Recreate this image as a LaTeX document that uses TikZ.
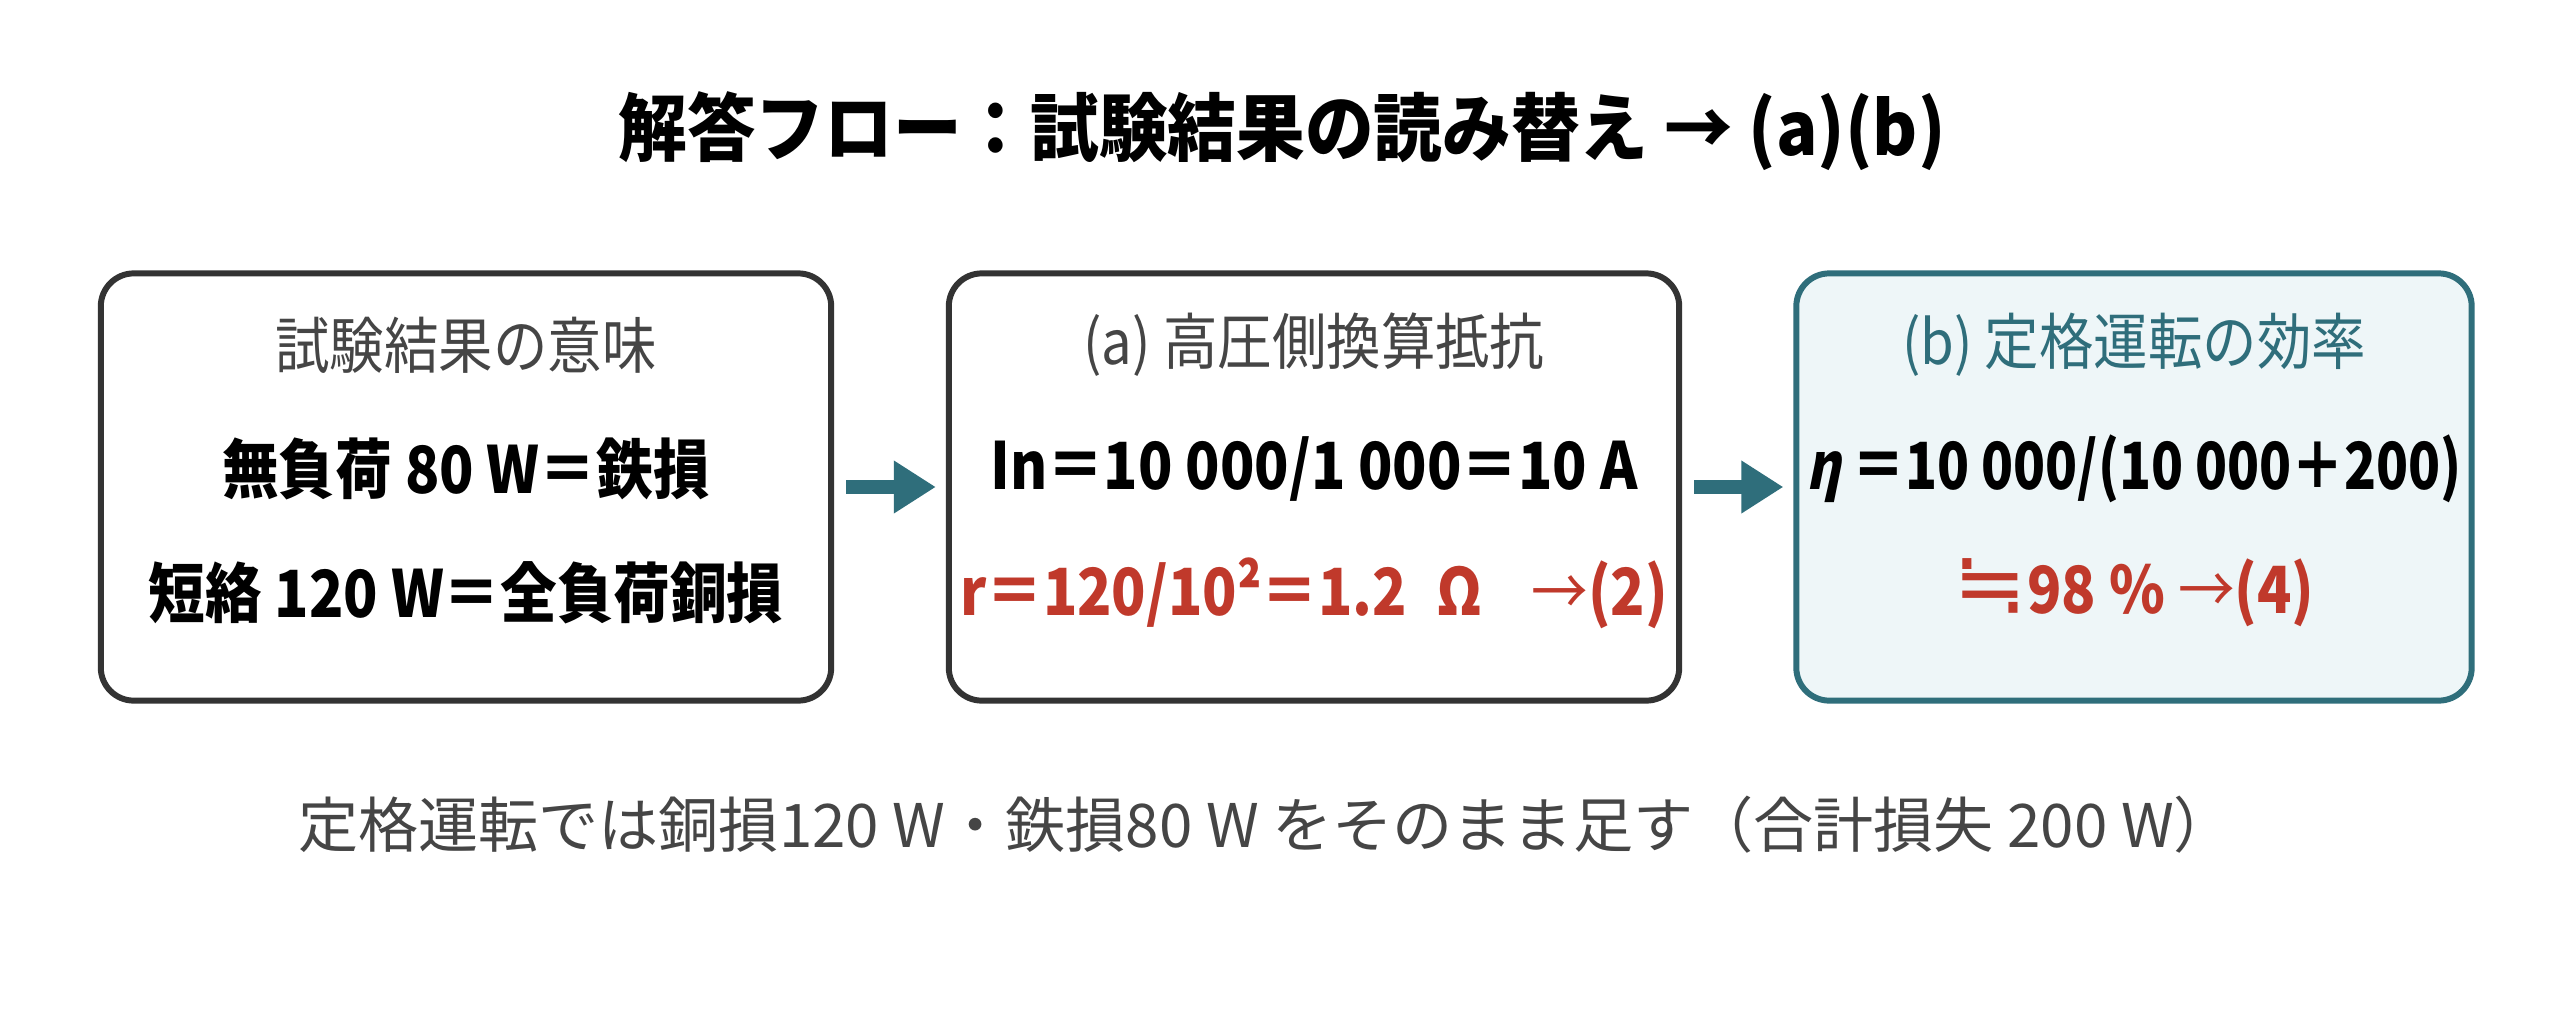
\documentclass[tikz,border=0pt]{standalone}
\usepackage{fontspec}
\setmainfont{Noto Sans CJK JP}
\newfontfamily\titlefont[FakeStretch=0.93]{Noto Sans CJK JP}
\newfontfamily\headfont[FakeStretch=0.89]{Noto Sans CJK JP}
\newfontfamily\calcfont[FakeStretch=0.87]{Noto Sans CJK JP}
\newfontfamily\tightfont[FakeStretch=0.81]{Noto Sans CJK JP}
\newfontfamily\etafont[FakeStretch=0.81, FakeSlant=0.2]{Noto Sans CJK JP}
\newfontfamily\symfont{DejaVu Sans}
\usetikzlibrary{arrows.meta}
\definecolor{cardline}{HTML}{333333}
\definecolor{headgray}{HTML}{454545}
\definecolor{flowteal}{HTML}{2F6E7B}
\definecolor{answerred}{HTML}{C0392B}
\definecolor{resultfill}{HTML}{EEF6F8}
\tikzset{
  card/.style = {draw=cardline, line width=1.7pt, rounded corners=0.33cm,
    minimum width=7.3cm, minimum height=4.27cm},
  resultcard/.style = {card, draw=flowteal, fill=resultfill, minimum width=6.75cm},
  head/.style = {text=headgray, font=\headfont\fontsize{17.4}{20}\selectfont},
  calc/.style = {font=\calcfont\bfseries\fontsize{18.5}{22}\selectfont},
  flow/.style = {draw=flowteal, line width=3.7pt,
    -{Triangle[length=0.42cm, width=0.5cm]}, shorten <=0.12cm, shorten >=0.1cm}
}
\newcommand{\thinarrow}{{\mdseries →}}
\begin{document}
\begin{tikzpicture}[x=0.01cm, y=-0.01cm]
  \useasboundingbox[fill=white] (0,0) rectangle (2560,1012);
  \node[font=\titlefont\bfseries\fontsize{21}{25}\selectfont] (title) at (1282,131)
    {解答フロー：試験結果の読み替え → (a)(b)};
  % three cards
  \node[card] (meaning) at (466,487) {};
  \node[card] (resist) at (1314,487) {};
  \node[resultcard] (effic) at (2134,487) {};
  \node[head] (meaninghead) at (466,345) {試験結果の意味};
  \node[calc] (noload) at (466,469) {無負荷 80 W＝鉄損};
  \node[calc] (short) at (466,593) {短絡 120 W＝全負荷銅損};
  \node[head] (resisthead) at (1314,345) {(a) 高圧側換算抵抗};
  \node[calc] (current) at (1314,469) {In＝10 000/1 000＝10 A};
  \node[calc, text=answerred] (rvalue) at (1314,593)
    {r＝120/10²＝1.2\hspace{0.45em}Ω\hspace{0.75em}\thinarrow(2)};
  \node[head, text=flowteal] (effichead) at (2134,345) {(b) 定格運転の効率};
  \node[calc, font=\tightfont\bfseries\fontsize{18.5}{22}\selectfont] (eta) at (2134,469)
    {{\etafont η} ＝10 000/(10 000＋200)};
  \node[calc, text=answerred] (etavalue) at (2134,593)
    {{\symfont\mdseries\fontsize{25}{25}\selectfont ≒}98 \% \thinarrow(4)};
  \draw[flow] (meaning.east) -- (resist.west);
  \draw[flow] (resist.east) -- (effic.west);
  \node[text=headgray, font=\fontsize{17.1}{20}\selectfont] (note) at (1266,825)
    {定格運転では銅損120 W・鉄損80 W をそのまま足す（合計損失 200 W）};
\end{tikzpicture}
\end{document}
